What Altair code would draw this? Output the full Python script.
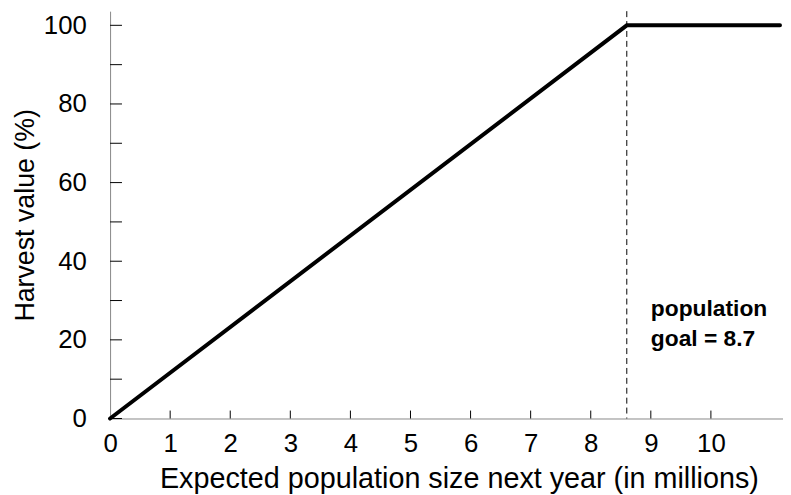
import altair as alt
import pandas as pd

# data
x_pts = [0, 8.6, 11.15]
y_pts = [0, 100, 100]
goal_x = 8.6
x_ticks = [0, 1, 2, 3, 4, 5, 6, 7, 8, 9, 10]
y_ticks = [0, 10, 20, 30, 40, 50, 60, 70, 80, 90, 100]
note_lines = ["population", "goal = 8.7"]
note_x = 9.0
note_y = 26.0

W, H = 679, 411
FONT = "Liberation Sans"

line_df = pd.DataFrame({"x": x_pts, "y": y_pts})
xs = alt.Scale(domain=[0, 11.2], nice=False, zero=False)
ys = alt.Scale(domain=[0, 103.6], nice=False)

x_axis = alt.Axis(
    values=x_ticks, format="d", grid=False, ticks=False, tickSize=0, labelPadding=12,
    labelFontSize=26,
    title="Expected population size next year (in millions)",
    titleFontSize=29, titleFontWeight="normal", titlePadding=9,
    titleX=352, titleAnchor="middle", labelFlush=False)
y_axis = alt.Axis(
    values=y_ticks, format="d", grid=False, ticks=False, tickSize=0, labelPadding=24,
    labelFontSize=26,
    labelExpr="datum.value % 20 == 0 ? datum.label : ''",
    title="Harvest value (%)", titleFontSize=27, titleFontWeight="normal",
    titlePadding=4, labelFlush=False)

line = alt.Chart(line_df).mark_line(color="black", strokeWidth=4, strokeCap="round").encode(
    x=alt.X("x:Q", scale=xs, axis=x_axis),
    y=alt.Y("y:Q", scale=ys, axis=y_axis),
)

xt = alt.Chart(pd.DataFrame({"x": x_ticks[1:]})).mark_rule(color="black", strokeWidth=1).encode(
    x=alt.X("x:Q", scale=xs, axis=x_axis), y=alt.value(H), y2=alt.value(H - 8))
yt = alt.Chart(pd.DataFrame({"y": y_ticks})).mark_rule(color="black", strokeWidth=1).encode(
    y=alt.Y("y:Q", scale=ys, axis=y_axis), x=alt.value(0), x2=alt.value(12))

goal = alt.Chart(pd.DataFrame({"x": [goal_x]})).mark_rule(
    color="black", strokeWidth=1, strokeDash=[6, 4]).encode(
    x=alt.X("x:Q", scale=xs, axis=x_axis), y=alt.value(0), y2=alt.value(H))

note = alt.Chart(pd.DataFrame({"x": [note_x], "y": [note_y], "t": [note_lines]})).mark_text(
    align="left", baseline="alphabetic", fontSize=23, fontWeight="bold",
    font=FONT, color="black", lineHeight=30).encode(
    x=alt.X("x:Q", scale=xs, axis=x_axis), y=alt.Y("y:Q", scale=ys, axis=y_axis), text="t")

chart = alt.layer(line, goal, xt, yt, note).properties(
    width=W, height=H,
    view=alt.ViewBackground(stroke="transparent", strokeWidth=0),
    autosize=alt.AutoSizeParams(type="none"),
    padding={"left": 103, "top": 1, "right": 0, "bottom": 75},
).configure_view(strokeWidth=0, stroke="transparent").configure_axis(
    grid=False, domainColor="black", domainWidth=1, labelColor="black",
    titleColor="black", labelFont=FONT, titleFont=FONT,
).configure(background="white")

chart.save("out.html", embed_options={"renderer": "svg", "actions": False})
